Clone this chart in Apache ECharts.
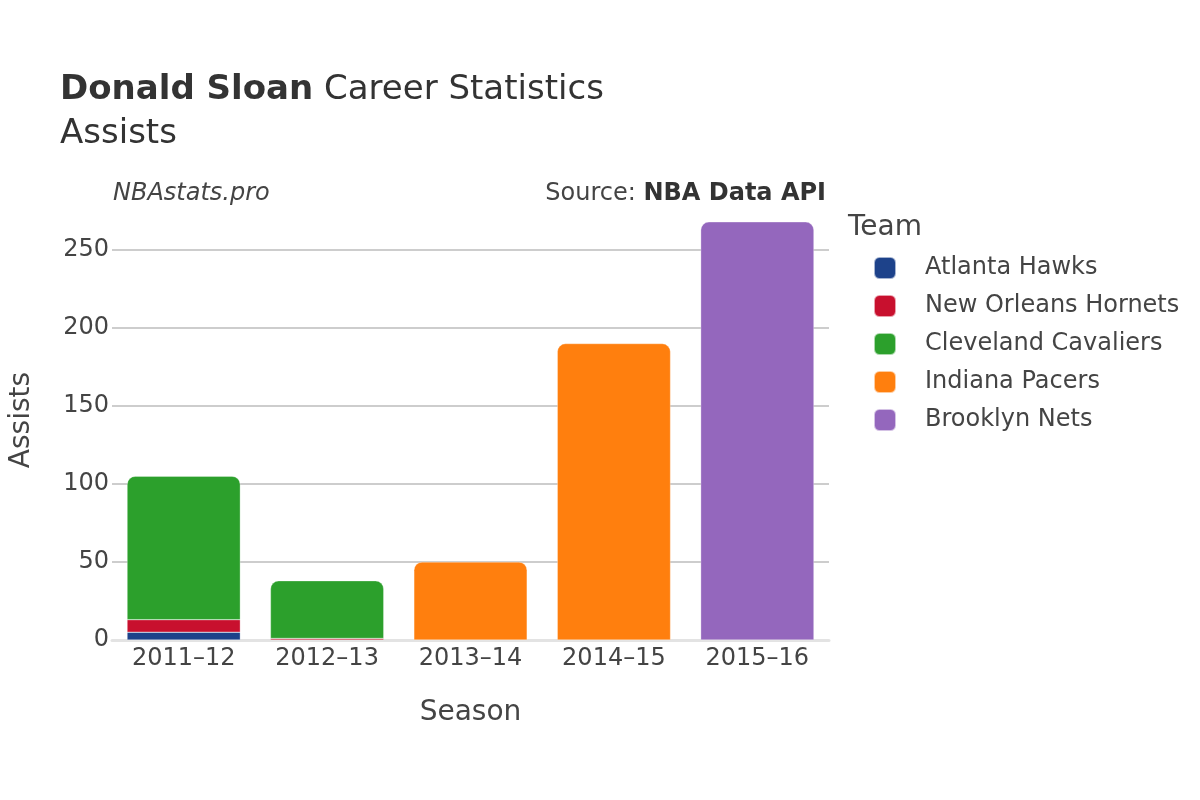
<!DOCTYPE html>
<html>
<head>
<meta charset="utf-8">
<script src="https://cdn.jsdelivr.net/npm/echarts@6/dist/echarts.min.js"></script>
<style>html,body{margin:0;padding:0;background:#fff}#c{width:1200px;height:800px}</style>
</head>
<body>
<div id="c"></div>
<script>
var seasons = ['2011\u201312', '2012\u201313', '2013\u201314', '2014\u201315', '2015\u201316'];
var teams = ['Atlanta Hawks', 'New Orleans Hornets', 'Cleveland Cavaliers', 'Indiana Pacers', 'Brooklyn Nets'];
var colors = ['#1d428a', '#c8102e', '#2ca02c', '#ff7f0e', '#9467bd'];
var atlanta = [5, 0, 0, 0, 0];
var hornets = [8, 1, 0, 0, 0];
var cavaliers = [92, 37, 0, 0, 0];
var pacers = [0, 0, 50, 190, 0];
var nets = [0, 0, 0, 0, 268];
var yTicks = [0, 50, 100, 150, 200, 250];

var values = [atlanta, hornets, cavaliers, pacers, nets];
var font = 'DejaVu Sans';
var txt = '#444';

var topIdx = seasons.map(function (s, i) {
  var t = -1;
  values.forEach(function (arr, k) { if (arr[i] > 0) t = k; });
  return t;
});

var series = teams.map(function (name, k) {
  return {
    name: name,
    type: 'bar',
    stack: 'total',
    barCategoryGap: '21%',
    itemStyle: { color: colors[k], borderColor: 'rgba(255,255,255,0.6)', borderWidth: 0.5 },
    data: values[k].map(function (v, i) {
      if (v <= 0) return null;
      return { value: v, itemStyle: { borderRadius: topIdx[i] === k ? [8, 8, 0, 0] : 0 } };
    })
  };
});

var chart = echarts.init(document.getElementById('c'), null, { renderer: 'canvas' });
chart.setOption({
  animation: false,
  textStyle: { fontFamily: font },
  title: [
    {
      text: '{b|Donald Sloan} Career Statistics\nAssists',
      left: 60, top: 68, padding: 0,
      textStyle: {
        fontFamily: font, fontSize: 34, color: '#333', fontWeight: 'normal', lineHeight: 44,
        rich: { b: { fontFamily: font, fontSize: 34, fontWeight: 'bold', color: '#333', lineHeight: 44 } }
      }
    },
    {
      text: 'NBAstats.pro', left: 113, top: 182, padding: 0,
      textStyle: { fontFamily: font, fontSize: 24, fontStyle: 'italic', fontWeight: 'normal', color: txt }
    },
    {
      text: 'Source: {b|NBA Data API}', right: 374, top: 182, padding: 0,
      textStyle: {
        fontFamily: font, fontSize: 24, fontWeight: 'normal', color: txt,
        rich: { b: { fontFamily: font, fontSize: 24, fontWeight: 'bold', color: '#333' } }
      }
    },
    {
      text: 'Team', left: 848, top: 214, padding: 0,
      textStyle: { fontFamily: font, fontSize: 28, fontWeight: 'normal', color: txt }
    }
  ],
  legend: {
    orient: 'vertical',
    left: 873, top: 256, padding: 0,
    icon: 'roundRect',
    itemWidth: 22, itemHeight: 22, itemGap: 14,
    textStyle: { fontFamily: font, fontSize: 24, color: txt, padding: [0, 0, 0, 24] },
    data: teams
  },
  grid: { left: 107, right: 371, top: 200, bottom: 160, containLabel: false },
  xAxis: {
    type: 'category',
    data: seasons,
    name: 'Season',
    nameLocation: 'middle',
    nameGap: 59,
    nameTextStyle: { fontFamily: font, fontSize: 28, color: txt },
    axisLine: { show: true, lineStyle: { color: '#e3e3e3', width: 3 } },
    axisTick: { show: false },
    axisLabel: { fontFamily: font, fontSize: 24, color: txt, margin: 7 }
  },
  yAxis: {
    type: 'value',
    min: 0, max: 282, interval: 50,
    name: 'Assists',
    nameLocation: 'middle',
    nameGap: 76,
    nameTextStyle: { fontFamily: font, fontSize: 28, color: txt },
    axisLine: { show: false },
    axisTick: { show: false },
    axisLabel: {
      fontFamily: font, fontSize: 24, color: txt, margin: 3,
      formatter: function (v) { return yTicks.indexOf(v) >= 0 ? String(v) : ''; }
    },
    splitLine: { showMaxLine: false, lineStyle: { color: '#bdbdbd', width: 1.5 } }
  },
  series: series
});
</script>
</body>
</html>
